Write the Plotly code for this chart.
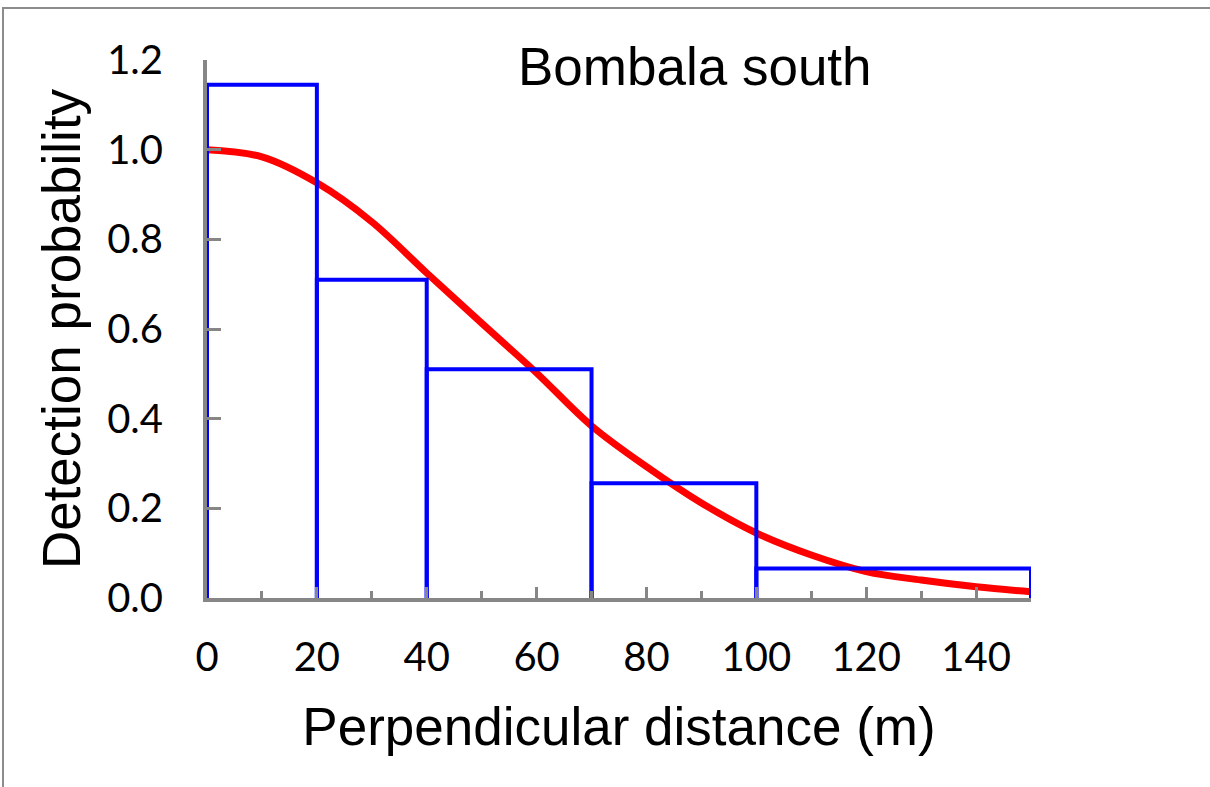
import plotly.graph_objects as go

# Histogram of scaled detection frequencies by distance class
bin_edges = [0, 20, 40, 70, 100, 150]
bin_heights = [1.145, 0.71, 0.51, 0.256, 0.066]

# Fitted detection function
curve_x = [0, 10, 20, 30, 40, 50, 60, 70, 80, 90, 100, 110, 120, 130, 140, 150]
curve_y = [1.0, 0.984, 0.926, 0.839, 0.725, 0.613, 0.502, 0.384, 0.293, 0.212,
           0.145, 0.096, 0.059, 0.040, 0.025, 0.014]

x_ticks = [0, 20, 40, 60, 80, 100, 120, 140]
y_ticks = [0.0, 0.2, 0.4, 0.6, 0.8, 1.0, 1.2]

title_text = "Bombala south"
x_title = "Perpendicular distance (m)"
y_title = "Detection probability"

# Open outlines of each distance class (no bottom edge)
ox, oy = [], []
for i, h in enumerate(bin_heights):
    x0, x1 = bin_edges[i], bin_edges[i + 1]
    ox += [x0, x0, x1, x1, None]
    oy += [0, h, h, 0, None]

fig = go.Figure()
fig.add_trace(go.Scatter(
    x=curve_x, y=curve_y, mode="lines",
    line=dict(color="#ff0000", width=7, shape="spline", smoothing=1.0),
    cliponaxis=False, hoverinfo="skip", showlegend=False,
))
fig.add_trace(go.Scatter(
    x=ox, y=oy, mode="lines",
    line=dict(color="#0000ff", width=4),
    cliponaxis=False, hoverinfo="skip", showlegend=False,
))

axis_gray = "#868686"
tick_font = dict(family="Lato, 'Open Sans', sans-serif", size=40, color="#000000")
title_font = dict(family="'Liberation Sans', Arial, sans-serif", size=53, color="#000000")
head_font = dict(family="'Liberation Sans', Arial, sans-serif", size=53, color="#000000")

fig.update_xaxes(
    range=[0, 150], tickvals=x_ticks, ticktext=[str(v) for v in x_ticks],
    showline=True, linecolor=axis_gray, linewidth=4,
    ticks="inside", ticklen=11, tickwidth=3, tickcolor=axis_gray,
    minor=dict(dtick=10, tick0=0, ticks="inside", ticklen=7, tickwidth=3,
               tickcolor=axis_gray, showgrid=False),
    showgrid=False, zeroline=False, tickfont=tick_font, ticklabelstandoff=21,
    title=dict(text=x_title, font=title_font, standoff=30),
)
fig.update_yaxes(
    range=[0, 1.2], tickvals=y_ticks, ticktext=[f"{v:.1f}" for v in y_ticks],
    showline=True, linecolor=axis_gray, linewidth=4,
    ticks="inside", ticklen=14, tickwidth=3, tickcolor=axis_gray,
    showgrid=False, zeroline=False, tickfont=tick_font, ticklabelstandoff=32,
    title=dict(text=y_title, font=title_font, standoff=11),
)

fig.add_annotation(
    text=title_text, x=88.8, y=1.2, xref="x", yref="y",
    xanchor="center", yanchor="middle", yshift=-6, showarrow=False,
    font=head_font,
)

# Outer chart frame
fig.add_shape(
    type="rect", xref="paper", yref="paper",
    x0=(3 - 207) / 824, x1=(1260 - 207) / 824,
    y0=(598 - 840) / 538, y1=(598 - 8) / 538,
    line=dict(color="#8c8c8c", width=2), fillcolor="rgba(0,0,0,0)", layer="below",
)

fig.update_layout(
    width=1210, height=787,
    margin=dict(l=207, r=179, t=60, b=189, pad=0),
    paper_bgcolor="#ffffff", plot_bgcolor="#ffffff",
    showlegend=False,
)

fig.write_html("out.html")
